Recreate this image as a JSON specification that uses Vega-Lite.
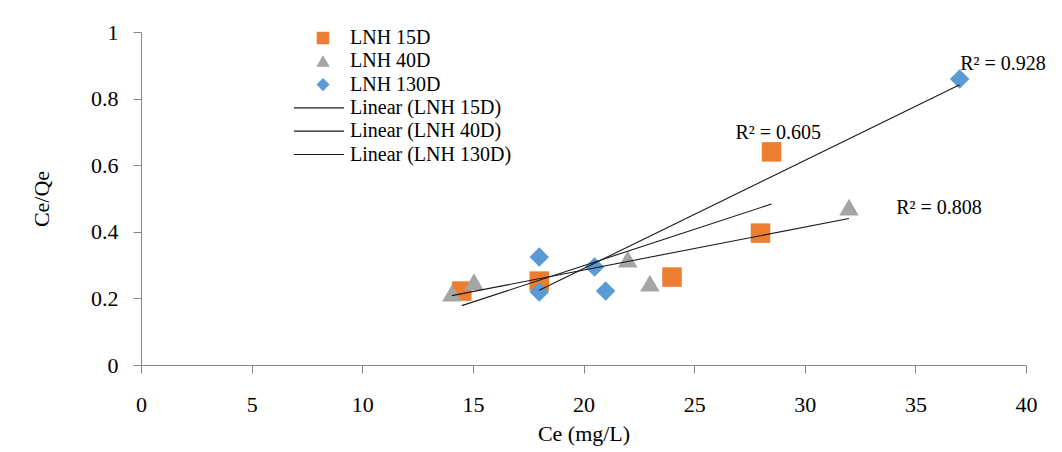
{
  "$schema": "https://vega.github.io/schema/vega-lite/v6.json",
  "width": 885,
  "height": 333,
  "autosize": "none",
  "padding": {"left": 141, "top": 32, "right": 36, "bottom": 87},
  "background": "white",
  "config": {
    "view": {"stroke": null},
    "font": "Liberation Serif",
    "axis": {
      "grid": false,
      "domainColor": "#868686",
      "tickColor": "#868686",
      "tickSize": 8,
      "labelFlush": false,
      "labelFont": "Liberation Serif",
      "labelFontSize": 22,
      "labelColor": "#000000",
      "titleFont": "Liberation Serif",
      "titleFontSize": 22,
      "titleFontWeight": "normal",
      "titleColor": "#000000"
    },
    "legend": {
      "labelFont": "Liberation Serif",
      "labelFontSize": 20,
      "labelColor": "#000000",
      "labelLimit": 0
    }
  },
  "data": {
    "values": [
      {"series": "LNH 15D", "fit": "Linear (LNH 15D)", "Ce": 14.5, "CeQe": 0.222},
      {"series": "LNH 15D", "fit": "Linear (LNH 15D)", "Ce": 18.0, "CeQe": 0.252},
      {"series": "LNH 15D", "fit": "Linear (LNH 15D)", "Ce": 24.0, "CeQe": 0.264},
      {"series": "LNH 15D", "fit": "Linear (LNH 15D)", "Ce": 28.0, "CeQe": 0.396},
      {"series": "LNH 15D", "fit": "Linear (LNH 15D)", "Ce": 28.5, "CeQe": 0.64},
      {"series": "LNH 40D", "fit": "Linear (LNH 40D)", "Ce": 14.05, "CeQe": 0.216},
      {"series": "LNH 40D", "fit": "Linear (LNH 40D)", "Ce": 15.05, "CeQe": 0.25},
      {"series": "LNH 40D", "fit": "Linear (LNH 40D)", "Ce": 22.0, "CeQe": 0.318},
      {"series": "LNH 40D", "fit": "Linear (LNH 40D)", "Ce": 23.0, "CeQe": 0.246},
      {"series": "LNH 40D", "fit": "Linear (LNH 40D)", "Ce": 32.0, "CeQe": 0.474},
      {"series": "LNH 130D", "fit": "Linear (LNH 130D)", "Ce": 18.0, "CeQe": 0.324},
      {"series": "LNH 130D", "fit": "Linear (LNH 130D)", "Ce": 18.0, "CeQe": 0.219},
      {"series": "LNH 130D", "fit": "Linear (LNH 130D)", "Ce": 20.5, "CeQe": 0.294},
      {"series": "LNH 130D", "fit": "Linear (LNH 130D)", "Ce": 21.0, "CeQe": 0.222},
      {"series": "LNH 130D", "fit": "Linear (LNH 130D)", "Ce": 37.0, "CeQe": 0.859}
    ]
  },
  "layer": [
    {
      "mark": {"type": "point", "filled": true, "opacity": 1, "size": 380},
      "encoding": {
        "x": {"field": "Ce", "type": "quantitative", "scale": {"domain": [0, 40], "nice": false},
          "axis": {"values": [0, 5, 10, 15, 20, 25, 30, 35, 40], "labelPadding": 21, "title": "Ce (mg/L)", "titlePadding": 8}},
        "y": {"field": "CeQe", "type": "quantitative", "scale": {"domain": [0, 1], "nice": false},
          "axis": {"values": [0, 0.2, 0.4, 0.6, 0.8, 1], "format": "~g", "labelPadding": 15, "title": "Ce/Qe", "titlePadding": 37}},
        "color": {
          "field": "series", "type": "nominal",
          "scale": {
            "domain": ["LNH 15D", "LNH 40D", "LNH 130D", "Linear (LNH 15D)", "Linear (LNH 40D)", "Linear (LNH 130D)"],
            "range": ["#ED7D31", "#A5A5A5", "#5B9BD5", "#1a1a1a", "#1a1a1a", "#1a1a1a"]
          },
          "legend": {
            "orient": "none", "legendX": 172, "legendY": -4, "title": null, "padding": 0,
            "symbolSize": 130, "rowPadding": 3.3, "labelOffset": 17, "symbolStrokeWidth": 1.2, "labelLimit": 0,
            "encode": {"symbols": {"update": {"stroke": {"scale": "color", "field": "value"}, "strokeWidth": {"value": 1.2}}}}
          }
        },
        "shape": {
          "field": "series", "type": "nominal",
          "scale": {
            "domain": ["LNH 15D", "LNH 40D", "LNH 130D", "Linear (LNH 15D)", "Linear (LNH 40D)", "Linear (LNH 130D)"],
            "range": ["square", "triangle-up", "diamond", "M-5.1,0H3.7", "M-5.1,0H3.7", "M-5.1,0H3.7"]
          },
          "legend": {
            "orient": "none", "legendX": 172, "legendY": -4, "title": null, "padding": 0,
            "symbolSize": 130, "rowPadding": 3.3, "labelOffset": 17, "symbolStrokeWidth": 1.2, "labelLimit": 0,
            "encode": {"symbols": {"update": {"stroke": {"scale": "color", "field": "value"}, "strokeWidth": {"value": 1.2}}}}
          }
        }
      }
    },
    {
      "mark": {"type": "line", "strokeWidth": 1.1},
      "transform": [{"regression": "CeQe", "on": "Ce", "groupby": ["fit"]}],
      "encoding": {
        "x": {"field": "Ce", "type": "quantitative"},
        "y": {"field": "CeQe", "type": "quantitative"},
        "color": {"field": "fit", "type": "nominal",
          "legend": {
            "orient": "none", "legendX": 172, "legendY": -4, "title": null, "padding": 0,
            "symbolSize": 130, "rowPadding": 3.3, "labelOffset": 17, "symbolStrokeWidth": 1.2, "labelLimit": 0,
            "encode": {"symbols": {"update": {"stroke": {"scale": "color", "field": "value"}, "strokeWidth": {"value": 1.2}}}}
          }}
      }
    },
    {
      "data": {
        "values": [
          {"label": "R² = 0.928", "Ce": 38.96, "CeQe": 0.905},
          {"label": "R² = 0.605", "Ce": 28.8, "CeQe": 0.697},
          {"label": "R² = 0.808", "Ce": 36.07, "CeQe": 0.472}
        ]
      },
      "mark": {"type": "text", "font": "Liberation Serif", "fontSize": 20, "align": "center", "baseline": "middle", "color": "#000000"},
      "encoding": {
        "x": {"field": "Ce", "type": "quantitative"},
        "y": {"field": "CeQe", "type": "quantitative"},
        "text": {"field": "label"}
      }
    }
  ]
}
